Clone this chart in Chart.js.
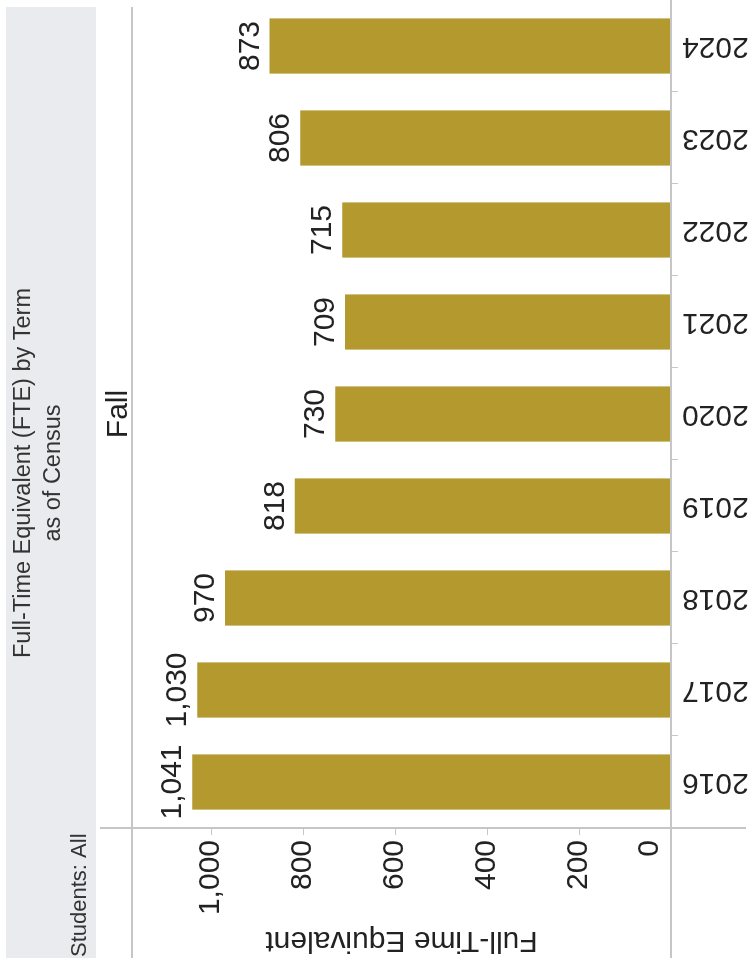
<!DOCTYPE html>
<html>
<head>
<meta charset="utf-8">
<title>Full-Time Equivalent (FTE) by Term</title>
<script src="https://cdn.jsdelivr.net/npm/chart.js@4.4.1/dist/chart.umd.min.js"></script>
<style>
  html, body { margin: 0; padding: 0; background: #fff; overflow: hidden; }
  /* the chart is laid out landscape and turned a quarter left */
  #wrap {
    position: absolute; left: 0; top: 0;
    width: 973px; height: 756px;
    transform-origin: 0 0;
    transform: translateY(973px) rotate(-90deg);
  }
</style>
</head>
<body>
<div id="wrap"><canvas id="fteChart" width="973" height="756"></canvas></div>
<script>
const terms = ['2016', '2017', '2018', '2019', '2020', '2021', '2022', '2023', '2024'];
const fteValues = [1041, 1030, 970, 818, 730, 709, 715, 806, 873];
const valueTicks = [0, 200, 400, 600, 800, 1000];
const axisMax = 1172;

const FONT = '"Liberation Sans", Arial, sans-serif';
const lineColor = '#c6c6c6';
const textColor = '#222';

Chart.defaults.font.family = FONT;
Chart.defaults.color = textColor;

const fmt = v => v.toLocaleString('en-US');

// grey title band, "Fall" header and the Tableau-style frame lines
const frame = {
  id: 'frame',
  afterUpdate(chart) {
    // keep the "0" label inside the pane, like the other tick labels
    const items = chart.scales.y.getLabelItems();
    items.forEach(item => {
      if (item.label === '0') item.options.translation[1] -= 21;
    });
  },
  beforeDraw(chart) {
    const ctx = chart.ctx;
    const area = chart.chartArea;
    ctx.save();
    ctx.fillStyle = '#eaebef';
    ctx.fillRect(15, 6, 951, 90);

    ctx.fillStyle = '#333';
    ctx.textAlign = 'center';
    ctx.textBaseline = 'alphabetic';
    ctx.font = '23.5px ' + FONT;
    ctx.fillText('Full-Time Equivalent (FTE) by Term', 500, 30);
    ctx.fillText('as of Census', 500, 60);

    ctx.font = '22px ' + FONT;
    ctx.textAlign = 'left';
    ctx.fillText('Students: All', 16, 86);

    ctx.textAlign = 'center';
    ctx.font = '30px ' + FONT;
    ctx.fillStyle = textColor;
    ctx.fillText('Fall', (area.left + area.right) / 2, area.top - 5);
    ctx.restore();
  },
  afterDraw(chart) {
    const ctx = chart.ctx;
    const area = chart.chartArea;
    ctx.save();
    ctx.strokeStyle = lineColor;
    ctx.lineWidth = 2;
    ctx.beginPath();
    ctx.moveTo(15, area.top);
    ctx.lineTo(966, area.top);
    ctx.moveTo(15, area.bottom);
    ctx.lineTo(area.right, area.bottom);
    ctx.moveTo(area.left, 100);
    ctx.lineTo(area.left, 746);
    ctx.stroke();
    ctx.restore();
  }
};

// value printed above each bar
const valueLabels = {
  id: 'valueLabels',
  afterDatasetsDraw(chart) {
    const ctx = chart.ctx;
    const meta = chart.getDatasetMeta(0);
    ctx.save();
    ctx.font = '30px ' + FONT;
    ctx.fillStyle = textColor;
    ctx.textAlign = 'center';
    ctx.textBaseline = 'alphabetic';
    meta.data.forEach((bar, i) => {
      ctx.fillText(fmt(fteValues[i]), bar.x, bar.y - 11);
    });
    ctx.restore();
  }
};

const ctx = document.getElementById('fteChart').getContext('2d');

const fteChart = new Chart(ctx, {
  type: 'bar',
  data: {
    labels: terms,
    datasets: [{
      label: 'Full-Time Equivalent',
      data: fteValues,
      backgroundColor: '#b4992f',
      borderWidth: 0,
      barPercentage: 0.6,
      categoryPercentage: 1
    }]
  },
  options: {
    responsive: false,
    animation: false,
    devicePixelRatio: 1,
    layout: { padding: { top: 132, right: 0, bottom: 0, left: 0 } },
    plugins: {
      legend: { display: false },
      tooltip: { enabled: false }
    },
    scales: {
      x: {
        grid: {
          drawOnChartArea: false,
          tickLength: 7,
          tickColor: lineColor,
          offset: true
        },
        border: { display: false },
        ticks: {
          minRotation: 90,
          maxRotation: 90,
          autoSkip: false,
          padding: 4,
          color: textColor,
          font: { size: 30 }
        },
        afterFit(axis) { axis.height = 85; }
      },
      y: {
        min: 0,
        max: axisMax,
        grid: {
          drawOnChartArea: false,
          tickLength: 7,
          tickColor: lineColor
        },
        border: { display: false },
        ticks: {
          padding: 5,
          color: textColor,
          font: { size: 30 },
          callback: v => fmt(v)
        },
        afterBuildTicks(axis) {
          axis.ticks = valueTicks.map(v => ({ value: v }));
        },
        title: {
          display: true,
          text: 'Full-Time Equivalent',
          color: textColor,
          font: { size: 30 },
          padding: { top: 15, bottom: 0 }
        },
        afterFit(axis) { axis.width = 145; }
      }
    }
  },
  plugins: [frame, valueLabels]
});
</script>
</body>
</html>
